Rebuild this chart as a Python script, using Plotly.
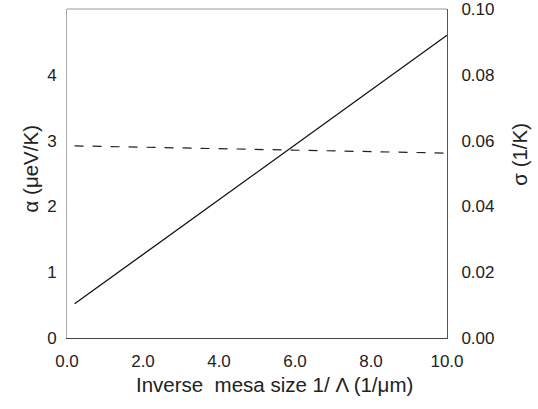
import plotly.graph_objects as go

# Data
inv_mesa = [0.2, 10.0]                # 1/Λ (1/μm)
alpha = [0.52, 4.60]                  # α (μeV/K), solid line, left axis
sigma = [0.0584, 0.0562]              # σ (1/K), dashed line, right axis

x_ticks = [0, 2, 4, 6, 8, 10]
x_ticktext = ["0.0", "2.0", "4.0", "6.0", "8.0", "10.0"]
y_ticks = [0, 1, 2, 3, 4]
y2_ticks = [0.0, 0.02, 0.04, 0.06, 0.08, 0.10]

x_title = "Inverse  mesa size 1/ Λ (1/μm)"
y_title = "α (μeV/K)"
y2_title = "σ (1/K)"

FONT = "Liberation Sans, Arial, Helvetica, sans-serif"
TITLE_FONT = dict(family=FONT, size=20.5, color="#222222")

fig = go.Figure()
fig.add_trace(go.Scatter(x=inv_mesa, y=alpha, mode="lines",
                         line=dict(color="#111111", width=1.3), yaxis="y"))
fig.add_trace(go.Scatter(x=inv_mesa, y=sigma, mode="lines",
                         line=dict(color="#222222", width=1.2, dash="dash"),
                         yaxis="y2"))

fig.update_layout(
    width=538, height=409,
    margin=dict(l=67, r=91, t=9, b=71),
    paper_bgcolor="white", plot_bgcolor="white",
    showlegend=False,
    font=dict(family=FONT, size=17, color="#222222"),
    xaxis=dict(range=[0, 10], tickvals=x_ticks, ticktext=x_ticktext,
               showgrid=False, zeroline=False, showline=True,
               linecolor="#444444", linewidth=1, ticks="",
               automargin=False, ticklabelstandoff=8),
    yaxis=dict(range=[0, 5], tickvals=y_ticks, showgrid=False,
               zeroline=False, showline=True, linecolor="#aaaaaa",
               linewidth=1, ticks="", ticklabelstandoff=6,
               automargin=False),
    yaxis2=dict(range=[0, 0.10], tickvals=y2_ticks, tickformat=".2f",
                overlaying="y", side="right", showgrid=False,
                zeroline=False, showline=True, linecolor="#555555",
                linewidth=1, ticks="", ticklabelstandoff=10,
                ticklabeloverflow="allow", automargin=False),
    shapes=[dict(type="line", xref="paper", yref="paper", x0=0, x1=1,
                 y0=1, y1=1, line=dict(color="#999999", width=1))],
    annotations=[
        dict(text=x_title, xref="paper", yref="paper", x=0.545, y=-0.142,
             xanchor="center", yanchor="middle", showarrow=False,
             font=TITLE_FONT),
        dict(text=y_title, xref="paper", yref="paper", x=-0.095, y=0.515,
             xanchor="center", yanchor="middle", showarrow=False,
             textangle=-90, font=TITLE_FONT),
        dict(text=y2_title, xref="paper", yref="paper", x=1.192, y=0.56,
             xanchor="center", yanchor="middle", showarrow=False,
             textangle=-90, font=TITLE_FONT),
    ],
)

fig.write_html("out.html",
               config={"displayModeBar": False},
               post_script="document.body.style.margin='0px';")
